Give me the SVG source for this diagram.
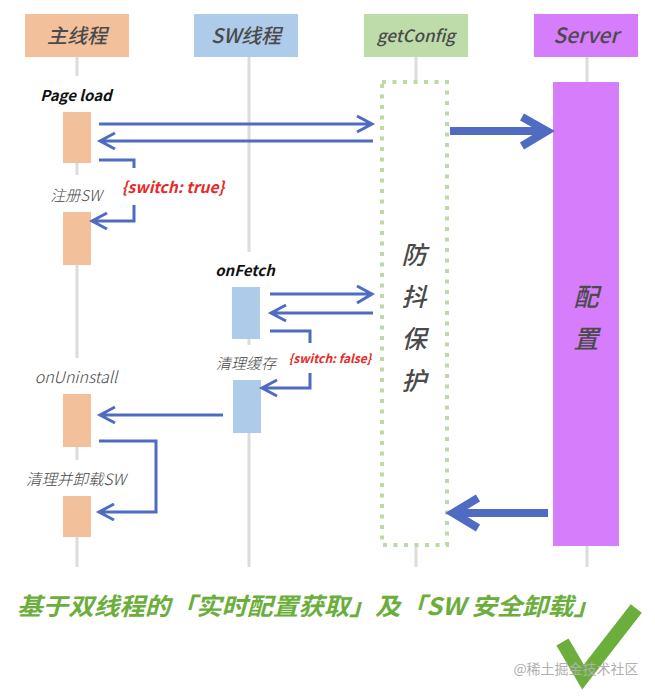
<svg xmlns="http://www.w3.org/2000/svg" width="655" height="699" viewBox="0 0 655 699">
<style>
.life{stroke:#dcdcdc;stroke-width:3;fill:none}
.arr{stroke:#4f6cc2;stroke-width:3;fill:none;stroke-linecap:butt;stroke-linejoin:miter}
.thick{stroke-width:8}
.t{font-family:"Noto Sans CJK SC","Noto Sans",sans-serif;font-style:italic}
.hd{font-size:20px;fill:#4a4a4a;text-anchor:middle;font-weight:500}
.lbl{font-size:15px;fill:#444;text-anchor:middle;font-weight:300}
.bl{font-size:15px;fill:#111;text-anchor:middle;font-weight:700}
.red{fill:#e42b2b;font-weight:700;text-anchor:middle}
.main{fill:#f2c09b}
.sw{fill:#afcbea}
.vt{font-size:25px;fill:#4a4a4a;text-anchor:middle;font-weight:500}
</style>
<rect width="655" height="699" fill="#fff"/>
<g id="lifelines">
<path class="life" d="M77 57V76M77 163V175M77 265V358M77 447V460M77 537V567"/>
<path class="life" d="M249 57V252M249 339V345M249 433V567"/>
<path class="life" d="M416 57V81M416 546V567"/>
<path class="life" d="M587 57V82M587 546V567"/>
</g>
<g id="node-main">
<rect class="main" x="25" y="14" width="104" height="43"/>
<text class="t hd" x="77" y="43">主线程</text>
</g>
<g id="node-sw">
<rect class="sw" x="194" y="14" width="104" height="43"/>
<text class="t hd" x="246" y="43">SW线程</text>
</g>
<g id="node-getconfig">
<rect fill="#bddca9" x="364" y="14" width="104" height="43"/>
<text class="t hd" x="416" y="42" style="font-size:17px">getConfig</text>
</g>
<g id="node-server">
<rect fill="#d67dfc" x="534" y="14" width="104" height="43"/>
<text class="t hd" x="586" y="43" style="font-size:21px">Server</text>
</g>
<g id="act-main">
<rect class="main" x="63" y="112" width="28" height="51"/>
<rect class="main" x="63" y="212" width="28" height="53"/>
<rect class="main" x="63" y="394" width="28" height="53"/>
<rect class="main" x="63" y="496" width="28" height="41"/>
</g>
<g id="act-sw">
<rect class="sw" x="232" y="287" width="28" height="52"/>
<rect class="sw" x="233" y="380" width="28" height="53"/>
</g>
<g id="debounce">
<rect x="382" y="82" width="65" height="463" fill="none" stroke="#bcd9a6" stroke-width="4" stroke-dasharray="4 6.5"/>
<text class="t vt" x="414" y="264">防</text>
<text class="t vt" x="414" y="306">抖</text>
<text class="t vt" x="414" y="348">保</text>
<text class="t vt" x="414" y="390">护</text>
</g>
<g id="server-bar">
<rect fill="#d67dfc" x="553" y="82" width="66" height="464"/>
<text class="t vt" x="586" y="306">配</text>
<text class="t vt" x="586" y="348">置</text>
</g>
<g id="connectors">
<path class="arr" d="M99 124H371M357 116L372 124L357 132"/>
<path class="arr" d="M373 141H101M115 133L100 141L115 149"/>
<path class="arr" d="M99 160H134V168"/>
<path class="arr" d="M134 205V221H93M107 213L92 221L107 229"/>
<path class="arr thick" d="M450 131H544M522 117L547 131L522 146"/>
<path class="arr thick" d="M548 513H455M478 498L453 513L478 528"/>
<path class="arr" d="M270 294H371M357 286L372 294L357 303"/>
<path class="arr" d="M373 313H272M286 305L271 313L286 321"/>
<path class="arr" d="M270 331H310V343"/>
<path class="arr" d="M310 373V388H263M277 380L262 388L277 396"/>
<path class="arr" d="M223 415H101M115 407L100 415L115 423"/>
<path class="arr" d="M99 441H156V512H100M114 504L99 512L114 520"/>
</g>
<g id="labels">
<text class="t bl" x="76" y="101">Page load</text>
<text class="t lbl" x="76" y="201">注册SW</text>
<text class="t red" x="173" y="193" style="font-size:15.5px">{switch: true}</text>
<text class="t bl" x="245" y="276">onFetch</text>
<text class="t lbl" x="246" y="369">清理缓存</text>
<text class="t red" x="330" y="363" style="font-size:12px">{switch: false}</text>
<text class="t lbl" x="76" y="383" style="font-size:16px">onUninstall</text>
<text class="t lbl" x="76" y="485" style="font-size:15.5px">清理并卸载SW</text>
</g>
<g id="footer">
<text class="t" x="17" y="615" textLength="582" lengthAdjust="spacingAndGlyphs" style="font-size:24px;fill:#6cae3c;font-weight:700">基于双线程的「实时配置获取」及「SW 安全卸载」</text>
<path d="M566 648L583 677L632 614" fill="none" stroke="#6cae3c" stroke-width="14" stroke-linecap="square" stroke-linejoin="miter"/>
<text x="576" y="674" text-anchor="middle" style="font-family:'Noto Sans CJK SC',sans-serif;font-size:14px;fill:#b0b0b0">@稀土掘金技术社区</text>
</g>
</svg>
